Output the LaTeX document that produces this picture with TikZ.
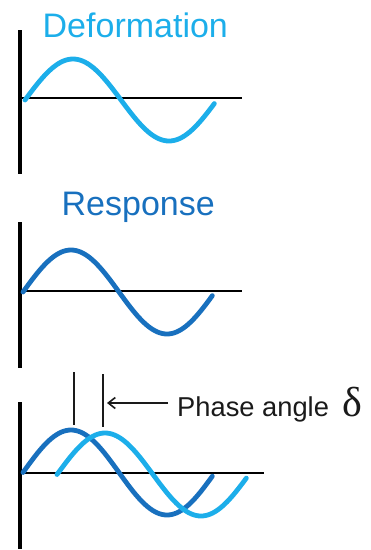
\documentclass[tikz,border=0pt]{standalone}
\usepackage{fontspec}
\setmainfont{Liberation Sans}
\newfontfamily\dltfont{Liberation Serif}
\usetikzlibrary{arrows.meta}
\definecolor{lightblue}{RGB}{28,174,234}
\definecolor{darkblue}{RGB}{24,112,190}
\definecolor{txtblack}{RGB}{26,26,26}
\tikzset{
  axisv/.style={line width=3.4pt, black},
  axish/.style={line width=2.8pt, black},
  wave/.style={line width=4.8pt, line cap=round, line join=round},
  tick/.style={line width=1.6pt, txtblack},
  lbl/.style={inner sep=0pt, anchor=base west},
}
\begin{document}
\begin{tikzpicture}[x=1pt,y=-1pt]
\useasboundingbox (0,0) rectangle (371,550);
% Titles
\node[lbl, text=lightblue, font=\fontsize{34}{34}\selectfont] (deftitle) at (42.5,37) {Deformation};
\node[lbl, text=darkblue, font=\fontsize{34}{34}\selectfont] (restitle) at (61.5,215) {Response};
% Panel 1
\coordinate (v1t) at (20,30); \coordinate (v1b) at (20,174);
\coordinate (h1l) at (20,98); \coordinate (h1r) at (242,98);
\draw[axisv] (v1t) -- (v1b);
\draw[axish] (h1l) -- (h1r);
\draw[wave, lightblue] plot[domain=0:355, samples=80, smooth] ({25+\x*0.53333},{100-41*sin(\x)});
% Panel 2
\coordinate (v2t) at (20,222); \coordinate (v2b) at (20,368);
\coordinate (h2l) at (20,291); \coordinate (h2r) at (242,291);
\draw[axisv] (v2t) -- (v2b);
\draw[axish] (h2l) -- (h2r);
\draw[wave, darkblue] plot[domain=0:355, samples=80, smooth] ({23+\x*0.53333},{292-42*sin(\x)});
% Panel 3
\coordinate (v3t) at (20,402); \coordinate (v3b) at (20,549);
\coordinate (h3l) at (20,473); \coordinate (h3r) at (264,473);
\draw[axisv] (v3t) -- (v3b);
\draw[axish] (h3l) -- (h3r);
\draw[wave, darkblue] plot[domain=0:355, samples=80, smooth] ({23+\x*0.53333},{472.5-42.5*sin(\x)});
\draw[wave, lightblue] plot[domain=0:355, samples=80, smooth] ({57+\x*0.53333},{474.5-41.5*sin(\x)});
% Phase markers
\coordinate (t1t) at (74,372); \coordinate (t1b) at (74,425);
\coordinate (t2t) at (103,374); \coordinate (t2b) at (103,427);
\draw[tick] (t1t) -- (t1b);
\draw[tick] (t2t) -- (t2b);
\node[lbl, text=txtblack, font=\fontsize{27.3}{28}\selectfont] (phase) at (177,416) {Phase angle};
\node[lbl, text=txtblack, font=\dltfont\fontsize{42}{42}\selectfont] (delta) at (342,416) {δ};
\coordinate (arrstart) at (168,403);
\coordinate (arrend) at (107,403);
\draw[tick, -{Straight Barb[length=7pt,width=11pt,line width=1.6pt]}] (arrstart) -- (arrend);
\end{tikzpicture}
\end{document}
